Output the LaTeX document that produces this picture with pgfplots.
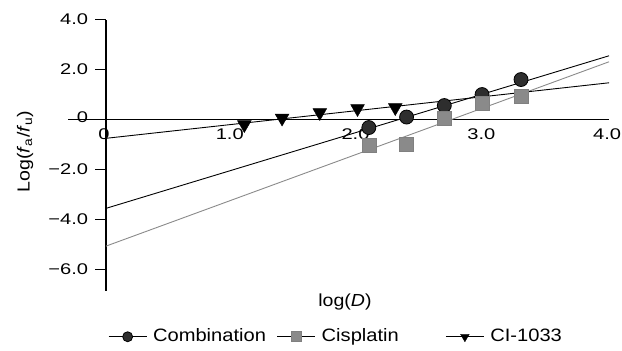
\documentclass[border=0pt]{standalone}
\usepackage{pgfplots}
\pgfplotsset{compat=1.18}
\usepackage{fontspec}
\setmainfont{Liberation Sans}[FakeStretch=1.12]
\newfontfamily\tickfont{Liberation Sans}[FakeStretch=1.3]
\definecolor{cisgray}{HTML}{8A8A8A}
\definecolor{combfill}{HTML}{2E2E2E}
\begin{document}
\fontsize{17.5bp}{21bp}\selectfont
\begin{tikzpicture}
\begin{axis}[
  scale only axis, width=542bp, height=272bp,
  xmin=-0.3, xmax=4.0, ymin=-6.85, ymax=4.0,
  axis lines=middle,
  axis line style={-, line width=1.3bp, black},
  hide obscured x ticks=false, hide obscured y ticks=false,
  xtick={0,1,2,3,4}, xticklabels={0,1.0,2.0,3.0,4.0},
  ytick={-6,-4,-2,0,2,4}, yticklabels={−6.0,−4.0,−2.0,\raisebox{5bp}{0},2.0,4.0},
  tick align=outside, major tick length=11bp,
  tick style={black, line width=1.2bp},
  xtick style={draw=none},
  tick label style={font=\tickfont\fontsize{15.5bp}{18bp}\selectfont},
  x tick label style={anchor=north, yshift=8bp, xshift=-2bp},
  y tick label style={anchor=east, xshift=-1bp},
  clip=false,
  legend columns=3,
  legend style={draw=none, fill=none, at={(0.0738,-0.169)}, anchor=west,
    inner sep=0pt, outer sep=0pt,
    font=\fontsize{18bp}{21bp}\selectfont,
    nodes={text width=118bp, align=left, inner xsep=6bp, inner ysep=1bp}},
  legend image code/.code={%
      \draw[black, line width=1bp] (0bp,0bp) -- (38bp,0bp);
      \draw[#1, mark size=5bp] plot coordinates {(19bp,0bp)};},
]
% regression lines
\addplot[black, line width=0.9bp, forget plot] coordinates {(0,-3.55) (4.0,2.55)};
\addplot[cisgray, line width=0.9bp, forget plot] coordinates {(0,-5.06) (4.0,2.31)};
\addplot[black, line width=0.9bp, forget plot] coordinates {(0,-0.75) (4.0,1.47)};
% data points
\addplot[only marks, mark=*, mark size=7bp, mark options={fill=combfill, draw=black, line width=0.8bp}]
  coordinates {(2.09,-0.32) (2.39,0.10) (2.69,0.56) (2.99,1.00) (3.30,1.60)};
\addlegendentry{Combination}
\addplot[only marks, mark=square*, mark size=7bp, mark options={fill=cisgray, draw=gray, line width=0.6bp}]
  coordinates {(2.09,-1.04) (2.39,-1.00) (2.69,0.04) (2.99,0.64) (3.30,0.92)};
\addlegendentry{Cisplatin}
\addplot[only marks, mark=triangle*, mark size=8bp, mark options={fill=black, draw=black, rotate=180}]
  coordinates {(1.10,-0.20) (1.40,0.06) (1.70,0.28) (2.00,0.44) (2.30,0.48)};
\addlegendentry{CI-1033}
\node at (axis cs:1.9,-7.3) {log(\textit{D})};
\node[rotate=90] at (axis cs:-0.644,-1.28)
  {Log(\textit{f}\textsubscript{a}/\textit{f}\textsubscript{u})};
\coordinate (bl) at (axis cs:-0.843,-9.24);
\coordinate (tr) at (axis cs:4.103,4.78);
\end{axis}
\pgfresetboundingbox
\useasboundingbox (bl) rectangle (tr);
\end{tikzpicture}
\end{document}
